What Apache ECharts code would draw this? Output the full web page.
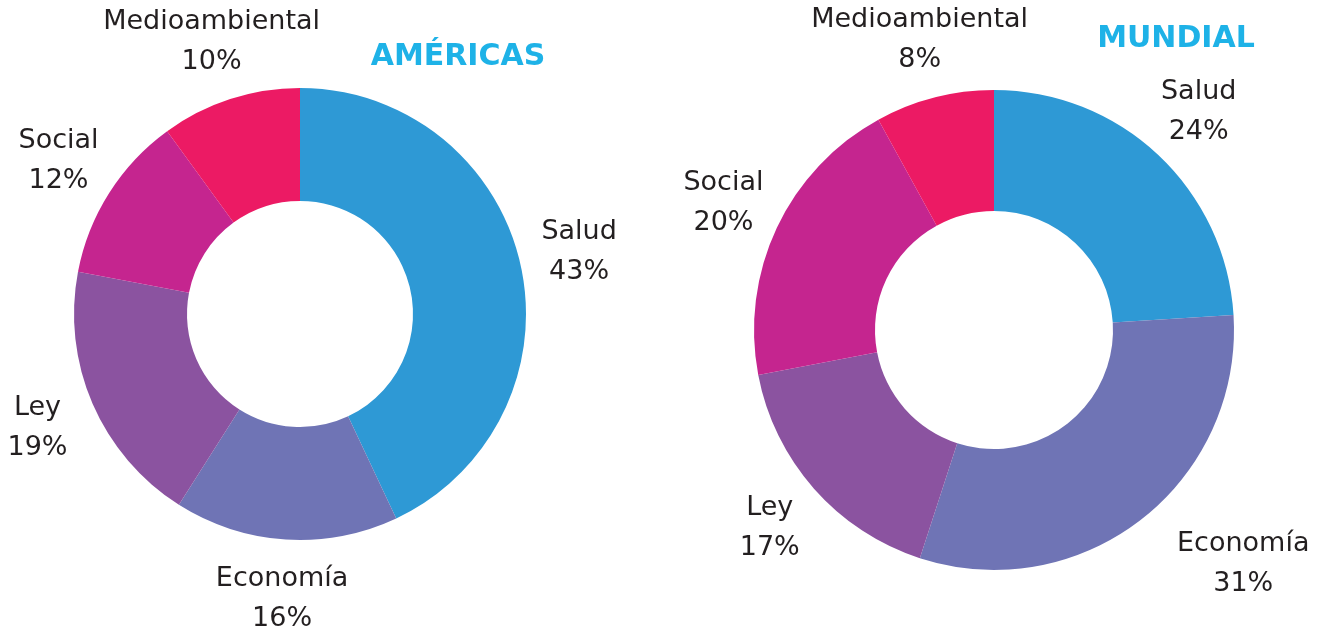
<!DOCTYPE html>
<html>
<head>
<meta charset="utf-8">
<script src="https://cdn.jsdelivr.net/npm/echarts@6/dist/echarts.min.js"></script>
<style>
html,body{margin:0;padding:0;background:#fff;}
#chart{width:1317px;height:634px;}
</style>
</head>
<body>
<div id="chart"></div>
<script>
const categories = ['Salud', 'Economía', 'Ley', 'Social', 'Medioambiental'];
const americasValues = [43, 16, 19, 12, 10];
const mundialValues = [24, 31, 17, 20, 8];
const titles = ['AMÉRICAS', 'MUNDIAL'];

const colors = ['#2E99D5', '#6F74B5', '#8B53A0', '#C5258F', '#EC1A64'];
const textColor = '#231F20';
const titleColor = '#1EB2E7';
const fontFamily = '"DejaVu Sans", sans-serif';

// layout (pixels)
const pies = [
  { center: [300, 314], inner: 113, outer: 226, labelR: 286, offsets: [[0, 0], [0, 0], [0, 0], [0, 0], [0, 0]] },
  { center: [994, 330], inner: 119, outer: 240, labelR: 299, offsets: [[0, 0], [66, -2], [0, 0], [0, 0], [0, 0]] }
];
const seriesValues = [americasValues, mundialValues];

function labelPos(si, di) {
  const vals = seriesValues[si];
  const total = vals.reduce((a, b) => a + b, 0);
  let before = 0;
  for (let i = 0; i < di; i++) before += vals[i];
  const mid = (before + vals[di] / 2) / total * Math.PI * 2;
  const p = pies[si];
  const r = p.labelR;
  return {
    x: p.center[0] + r * Math.sin(mid) + p.offsets[di][0],
    y: p.center[1] - r * Math.cos(mid) + p.offsets[di][1]
  };
}

const chart = echarts.init(document.getElementById('chart'), null, { renderer: 'canvas' });

const series = seriesValues.map((vals, si) => ({
  type: 'pie',
  center: pies[si].center,
  radius: [pies[si].inner, pies[si].outer],
  startAngle: 90,
  clockwise: true,
  avoidLabelOverlap: false,
  silent: true,
  itemStyle: { borderWidth: 0 },
  label: {
    show: true,
    position: 'outside',
    formatter: '{b}\n{c}%',
    color: textColor,
    fontFamily: fontFamily,
    fontSize: 27,
    lineHeight: 40,
    align: 'center'
  },
  labelLine: { show: false },
  labelLayout: function (params) {
    const pos = labelPos(si, params.dataIndex);
    return { x: pos.x, y: pos.y, align: 'center', verticalAlign: 'middle' };
  },
  data: categories.map((c, i) => ({ name: c, value: vals[i], itemStyle: { color: colors[i] } }))
}));

chart.setOption({
  animation: false,
  backgroundColor: '#ffffff',
  title: [
    { text: titles[0], left: 453, top: 52, textAlign: 'center', textVerticalAlign: 'middle',
      textStyle: { color: titleColor, fontFamily: fontFamily, fontWeight: 'bold', fontSize: 30 } },
    { text: titles[1], left: 1171, top: 34, textAlign: 'center', textVerticalAlign: 'middle',
      textStyle: { color: titleColor, fontFamily: fontFamily, fontWeight: 'bold', fontSize: 30 } }
  ],
  series: series
});
</script>
</body>
</html>
